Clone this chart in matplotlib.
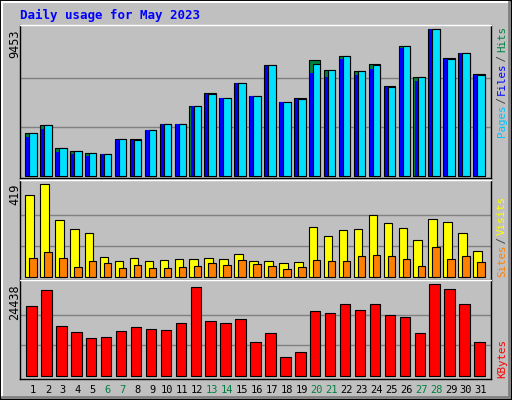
import matplotlib
matplotlib.use("Agg")
import matplotlib.pyplot as plt
from matplotlib.lines import Line2D
import numpy as np

days = list(range(1, 32))
weekend_days = [6, 7, 13, 14, 20, 21, 27, 28]
hits = [2750, 3265, 1783, 1590, 1461, 1396, 2363, 2363, 2943, 3330, 3330, 4490, 5327, 5005, 5972, 5134,
        7132, 4747, 5005, 7454, 6809, 7712, 6745, 7196, 5778, 8356, 6358, 9453, 7583, 7905, 6552]
files = [2750, 3265, 1783, 1590, 1461, 1396, 2363, 2298, 2943, 3330, 3330, 4490, 5263, 5005, 5972, 5134,
         7132, 4747, 4941, 7196, 6809, 7712, 6745, 7132, 5714, 8356, 6358, 9453, 7518, 7905, 6487]
pages = [2513, 3007, 1525, 1418, 1289, 1396, 2298, 2298, 2943, 3330, 3330, 4490, 5263, 5005, 5972, 5134,
         7067, 4747, 4941, 6637, 6358, 7518, 6487, 6895, 5714, 8227, 6122, 9453, 7518, 7905, 6487]
visits = [369, 419, 256, 215, 197, 88, 70, 83, 70, 74, 79, 79, 83, 79, 101, 70,
          70, 61, 65, 224, 183, 210, 215, 278, 242, 219, 165, 260, 247, 197, 115]
sites = [83, 110, 83, 42, 70, 61, 38, 51, 38, 38, 42, 47, 61, 51, 74, 56,
         47, 33, 42, 74, 70, 70, 92, 97, 92, 79, 47, 133, 79, 92, 65]
kbytes = [18554, 22835, 13202, 11596, 9990, 10258, 11864, 12934, 12399, 12131, 14004, 23638, 14540, 14004,
          15075, 8920, 11328, 4906, 6244, 17216, 16680, 19089, 17483, 19089, 16145, 15610, 11328, 24438,
          23103, 19089, 8920]
title = "Daily usage for May 2023"

W, H = 512, 400
BG = "#c0c0c0"
fig = plt.figure(figsize=(W / 100, H / 100), dpi=100, facecolor=BG)
mono = "DejaVu Sans Mono"

def ax_at(top, bottom):
    return fig.add_axes([20 / W, 1 - bottom / H, (491 - 20) / W, (bottom - top) / H])

x = np.array(days, dtype=float)
edge = dict(edgecolor="black", linewidth=0.8)

def setup(ax, vmax, lo, hi):
    ax.set_facecolor(BG)
    ax.set_xlim(0.13, 31.67)
    ax.set_ylim(lo, hi)
    for g in (vmax / 3, 2 * vmax / 3):
        ax.axhline(g, color="#808080", linewidth=1, zorder=0)
    ax.set_xticks([]); ax.set_yticks([])
    for s in ax.spines.values():
        s.set_color("black"); s.set_linewidth(1)
    ax.spines["top"].set_color("white")

ax1 = ax_at(25, 178)
setup(ax1, max(hits), -130, 9743)
ax1.bar(x - 0.52, hits, width=0.77, align="edge", color="#008040", zorder=2, **edge)
ax1.bar(x - 0.45, pages, width=0.2, align="edge", color="#0000ff", zorder=3, linewidth=0)
ax1.bar(x - 0.25, files, width=0.5, align="edge", color="#00e0ff", zorder=4, **edge)

ax2 = ax_at(180, 280)
setup(ax2, max(visits), -15, 438.6)
ax2.bar(x - 0.52, visits, width=0.57, align="edge", color="#ffff00", zorder=2, **edge)
ax2.bar(x - 0.25, sites, width=0.5, align="edge", color="#ff8000", zorder=3, **edge)

ax3 = ax_at(280, 379)
setup(ax3, max(kbytes), -880, 25588)
ax3.bar(x - 0.45, kbytes, width=0.7, align="edge", color="#ff0000", zorder=2, **edge)
ax3.set_xticks(days)
ax3.set_xticklabels([str(d) for d in days], family=mono, fontsize=7.5)
ax3.tick_params(axis="x", length=0, pad=4)
for lbl, d in zip(ax3.get_xticklabels(), days):
    lbl.set_color("#008040" if d in weekend_days else "black")

for val, ytop in ((max(hits), 29), (max(visits), 184), (max(kbytes), 284)):
    fig.text(8 / W, 1 - ytop / H, str(val), rotation=90, family=mono, fontsize=8.5, ha="left", va="top")

def vlegend(parts, ybottom):
    cw = 5.3
    y = ybottom
    for txt, col in parts:
        fig.text(497 / W, 1 - y / H, txt, rotation=90, rotation_mode="anchor", family=mono,
                 fontsize=7.8, color=col, ha="left", va="top")
        y -= cw * len(txt)

vlegend([("Pages", "#00c0ff"), (" / ", "#404040"), ("Files", "#0000ff"), (" / ", "#404040"), ("Hits", "#008040")], 137)
vlegend([("Sites", "#ff8000"), (" / ", "#404040"), ("Visits", "#ffff00")], 277)
vlegend([("KBytes", "#ff0000")], 378)

fig.text(20 / W, 1 - 15 / H, title, family=mono, fontsize=9, fontweight="bold", color="#0000ff", va="center")

def line(x0, y0, x1, y1, c, lw=1):
    fig.add_artist(Line2D([x0 / W, x1 / W], [1 - y0 / H, 1 - y1 / H], color=c, linewidth=lw))
line(0.5, 0.5, 511.5, 0.5, "black", 1.5)
line(0.5, 0.5, 0.5, 399.5, "black", 1.5)
line(511.5, 0.5, 511.5, 399.5, "black", 1.5)
line(0.5, 399.5, 511.5, 399.5, "black", 1.5)
line(2, 2, 509, 2, "white", 1.5)
line(2, 2, 2, 397, "white", 1.5)
line(509, 2, 509, 397, "#808080", 2)
line(2, 397, 509, 397, "#808080", 2)

fig.savefig("out.png", dpi=100, facecolor=BG)
